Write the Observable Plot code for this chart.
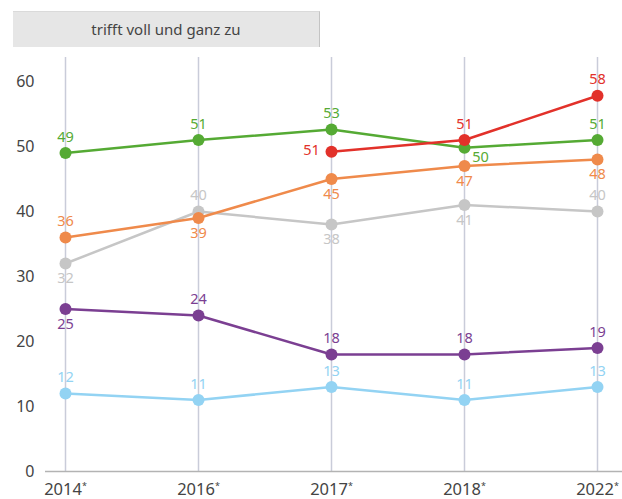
<!DOCTYPE html>
<html><head><meta charset="utf-8">
<script src="https://cdn.jsdelivr.net/npm/d3@7"></script>
<script src="https://cdn.jsdelivr.net/npm/@observablehq/plot@0.6"></script>
<style>
body{margin:0;background:#fff;font-family:"Noto Sans",sans-serif;}
#wrap{position:relative;width:622px;height:499px;}
#hdr{position:absolute;left:13px;top:11px;width:306px;height:35px;background:#e6e6e6;border-right:1px solid #c4c4c4;border-top:1px solid #dadada;color:#444;font-size:15px;line-height:35px;text-align:center;z-index:2;}
#chart{position:absolute;left:0;top:0;}
</style></head><body>
<div id="wrap"><div id="hdr">trifft voll und ganz zu</div><div id="chart"></div></div>
<script>
const years = ["2014","2016","2017","2018","2022"];
const seriesNames = ["grau","hellblau","lila","grün","orange","rot"];
const seriesColors = ["#c6c6c6","#93d3f3","#7b3f92","#55aa34","#ef8a4b","#e2312a"];
// plotted positions
const grau     = [32, 40, 38, 41, 40];
const hellblau = [12, 11, 13, 11, 13];
const lila     = [25, 24, 18, 18, 19];
const gruen    = [49, 51, 52.6, 49.8, 51];
const orange   = [36, 39, 45, 47, 48];
const rot      = [null, null, 49.2, 51, 57.8];
// printed value labels
const labGrau     = ["32","40","38","41","40"];
const labHellblau = ["12","11","13","11","13"];
const labLila     = ["25","24","18","18","19"];
const labGruen    = ["49","51","53","50","51"];
const labOrange   = ["36","39","45","47","48"];
const labRot      = [null, null, "51","51","58"];
const yTicks = [0, 10, 20, 30, 40, 50, 60];
// label placement per point
const posGrau     = ["below","above","below","below","above"];
const posHellblau = ["above","above","above","above","above"];
const posLila     = ["below","above","above","above","above"];
const posGruen    = ["above","above","above","belowright","above"];
const posOrange   = ["above","below","below","below","below"];
const posRot      = [null, null, "left","above","above"];

const valuesBy = {grau, hellblau, lila, "grün": gruen, orange, rot};
const labelsBy = {grau: labGrau, hellblau: labHellblau, lila: labLila, "grün": labGruen, orange: labOrange, rot: labRot};
const posBy = {grau: posGrau, hellblau: posHellblau, lila: posLila, "grün": posGruen, orange: posOrange, rot: posRot};

const rows = [];
for (const s of seriesNames) {
  valuesBy[s].forEach((v, i) => {
    if (v != null) rows.push({series: s, year: years[i], value: v, label: labelsBy[s][i], pos: posBy[s][i]});
  });
}

const txt = (pos, opts) => Plot.text(rows.filter(d => d.pos === pos), {
  x: "year", y: "value", text: "label", fill: "series",
  fontSize: 14.5, ...opts
});

const chart = Plot.plot({
  width: 622, height: 499,
  marginLeft: 45, marginRight: 0, marginTop: 57, marginBottom: 28,
  style: {fontFamily: '"Noto Sans", sans-serif', color: "#444", background: "transparent"},
  x: {type: "point", domain: years, range: [64, 597], padding: 0, label: null},
  y: {domain: [0, 63.69], label: null},
  color: {type: "ordinal", domain: seriesNames, range: seriesColors},
  marks: [
    Plot.ruleX(years, {x: d => d, y1: 0, y2: 63.69, stroke: "#c9ccd9", strokeWidth: 1.5}),
    Plot.ruleY([0], {stroke: "#b3b3b3", strokeWidth: 1.5}),
    Plot.axisY({ticks: yTicks, tickSize: 0, tickPadding: 11, fontSize: 16, fill: "#444", label: null}),
    Plot.axisX({tickSize: 0, tickPadding: 12, fontSize: 16.5, fill: "#444", tickFormat: d => d, label: null}),
    Plot.line(rows, {x: "year", y: "value", z: "series", stroke: "series", strokeWidth: 2.5}),
    Plot.dot(rows, {x: "year", y: "value", fill: "series", r: 6}),
    txt("above", {dy: -16}),
    txt("below", {dy: 15}),
    txt("left", {dx: -20, dy: -1}),
    txt("belowright", {dx: 16, dy: 10})
  ]
});
document.getElementById("chart").appendChild(chart);
// superscript asterisk on year labels
d3.select(chart).selectAll('g[aria-label="x-axis tick label"] text').each(function() {
  const t = d3.select(this);
  const label = t.text();
  t.text(label);
  t.append("tspan").attr("font-size", 9).attr("dy", "-0.7em").text("*");
});
</script>
</body></html>
